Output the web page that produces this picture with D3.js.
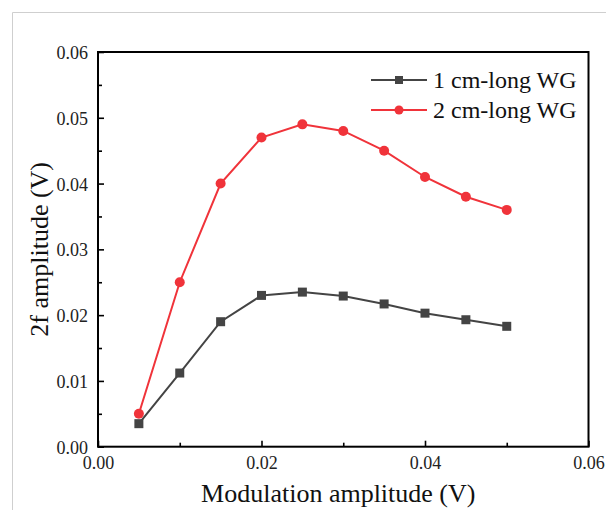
<!DOCTYPE html>
<html>
<head>
    <meta charset="utf-8">
    <title>2f amplitude</title>
    <script src="https://cdn.jsdelivr.net/npm/d3@7"></script>
    <style>
        body { margin: 0; background: #fff; }
        svg { display: block; font-family: "Liberation Serif", "Times New Roman", serif; }
    </style>
</head>
<body>
<script>
    // data
    var modAmp = [0.005, 0.01, 0.015, 0.02, 0.025, 0.03, 0.035, 0.04, 0.045, 0.05];
    var wg1cm = [0.0035, 0.0112, 0.0190, 0.0230, 0.0235, 0.0229, 0.0217, 0.0203, 0.0193, 0.0183];
    var wg2cm = [0.0050, 0.0250, 0.0400, 0.0470, 0.0490, 0.0480, 0.0450, 0.0410, 0.0380, 0.0360];
    var seriesNames = ['1 cm-long WG', '2 cm-long WG'];
    var xTicks = [0, 0.02, 0.04, 0.06];
    var yTicks = [0, 0.01, 0.02, 0.03, 0.04, 0.05, 0.06];

    var width = 606, height = 510;
    var plotL = 98, plotR = 588.5, plotT = 52, plotB = 446.7;
    var grey = '#444444', red = '#f0333a';

    var svg = d3.select('body').append('svg').attr('width', width).attr('height', height);

    // light frame round the figure
    svg.append('path').attr('d', 'M12.5,' + height + 'V12.5H' + width)
            .attr('fill', 'none').attr('stroke', '#cfcfcf').attr('stroke-width', 1);

    var x = d3.scaleLinear().domain([0, 0.06]).range([plotL, plotR]);
    var y = d3.scaleLinear().domain([0, 0.06]).range([plotB, plotT]);

    // minor ticks (inward)
    var xMinor = d3.axisBottom(x).tickValues([0.01, 0.03, 0.05]).tickSize(-4).tickFormat('');
    svg.append('g').attr('transform', 'translate(0,' + plotB + ')').call(xMinor);
    var yMinor = d3.axisLeft(y).tickValues([0.005, 0.015, 0.025, 0.035, 0.045, 0.055]).tickSize(-4).tickFormat('');
    svg.append('g').attr('transform', 'translate(' + plotL + ',0)').call(yMinor);

    // major axes
    var xAxis = d3.axisBottom(x).tickValues(xTicks).tickSize(-6).tickPadding(12).tickFormat(d3.format('.2f'));
    var gx = svg.append('g').attr('transform', 'translate(0,' + plotB + ')').call(xAxis);
    var yAxis = d3.axisLeft(y).tickValues(yTicks).tickSize(-6).tickPadding(10).tickFormat(d3.format('.2f'));
    var gy = svg.append('g').attr('transform', 'translate(' + plotL + ',0)').call(yAxis);

    svg.selectAll('.domain').remove();
    svg.selectAll('.tick line').attr('stroke', '#000').attr('stroke-width', 1.6);
    svg.selectAll('.tick text').attr('font-size', 18).attr('font-family', '"Liberation Serif", serif').attr('fill', '#222');
    gy.selectAll('.tick text').attr('dy', '0.36em');
    gx.selectAll('.tick text').attr('dy', '0.55em');

    // plot frame
    svg.append('rect').attr('x', plotL).attr('y', plotT)
            .attr('width', plotR - plotL).attr('height', plotB - plotT)
            .attr('fill', 'none').attr('stroke', '#000').attr('stroke-width', 2);

    // axis titles
    svg.append('text').text('Modulation amplitude (V)')
            .attr('x', (plotL + plotR) / 2 - 5).attr('y', 502)
            .attr('text-anchor', 'middle').attr('font-size', 26).attr('fill', '#111');
    svg.append('text').text('2f amplitude (V)')
            .attr('transform', 'translate(48,' + (plotT + plotB) / 2 + ') rotate(-90)')
            .attr('text-anchor', 'middle').attr('font-size', 26).attr('fill', '#111');

    var line = d3.line()
            .x(function (d) { return x(d[0]); })
            .y(function (d) { return y(d[1]); });

    function pairs(vals) {
        return modAmp.map(function (m, i) { return [m, vals[i]]; });
    }

    // 1 cm series
    svg.append('path').datum(pairs(wg1cm)).attr('d', line)
            .attr('fill', 'none').attr('stroke', grey).attr('stroke-width', 2);
    svg.selectAll('rect.p1').data(pairs(wg1cm)).enter().append('rect')
            .attr('class', 'p1')
            .attr('x', function (d) { return x(d[0]) - 4.5; })
            .attr('y', function (d) { return y(d[1]) - 4.5; })
            .attr('width', 9).attr('height', 9)
            .attr('fill', grey);

    // 2 cm series
    svg.append('path').datum(pairs(wg2cm)).attr('d', line)
            .attr('fill', 'none').attr('stroke', red).attr('stroke-width', 2);
    svg.selectAll('circle.p2').data(pairs(wg2cm)).enter().append('circle')
            .attr('class', 'p2')
            .attr('cx', function (d) { return x(d[0]); })
            .attr('cy', function (d) { return y(d[1]); })
            .attr('r', 5)
            .attr('fill', red);

    // legend
    var legY = [80, 110];
    var legColors = [grey, red];
    seriesNames.forEach(function (name, i) {
        var g = svg.append('g').attr('transform', 'translate(0,' + legY[i] + ')');
        g.append('line').attr('x1', 371).attr('x2', 427).attr('y1', 0).attr('y2', 0)
                .attr('stroke', legColors[i]).attr('stroke-width', 2);
        if (i === 0) {
            g.append('rect').attr('x', 395).attr('y', -4).attr('width', 8).attr('height', 8).attr('fill', grey);
        } else {
            g.append('circle').attr('cx', 399).attr('cy', 0).attr('r', 4.5).attr('fill', red);
        }
        g.append('text').text(name).attr('x', 433).attr('y', 0).attr('dy', '0.35em')
                .attr('font-size', 24).attr('fill', '#111');
    });
</script>
</body>
</html>
